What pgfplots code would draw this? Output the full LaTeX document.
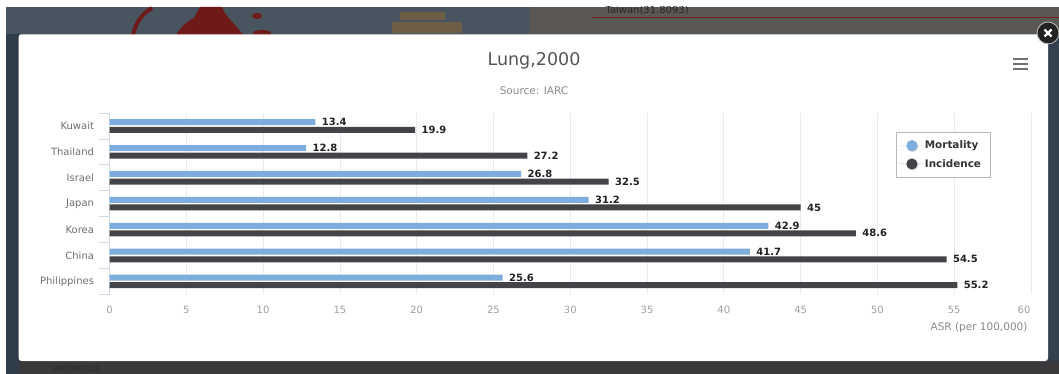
\documentclass[border=0pt]{standalone}
\usepackage{fontspec}
\usepackage{pgfplots}
\pgfplotsset{compat=1.18}
\usetikzlibrary{shadows}
\setmainfont{DejaVu Sans}
\definecolor{mort}{HTML}{7CADDC}
\definecolor{inc}{HTML}{434348}
\definecolor{ticktxt}{HTML}{A0A0A0}
\definecolor{cattxt}{HTML}{707070}
\definecolor{gridc}{HTML}{EBEBEB}
\definecolor{tickc}{HTML}{D0D8E4}
\definecolor{mapmain}{HTML}{3B4A58}
\definecolor{maptopl}{HTML}{48545F}
\definecolor{maptopr}{HTML}{5A5755}
\definecolor{mapbot}{HTML}{3A3A3C}
\definecolor{mapleft}{HTML}{2F3D4B}
\definecolor{mapright}{HTML}{33404E}
\definecolor{mapred}{HTML}{6E1A18}
\definecolor{mapsand}{HTML}{6E5E46}
\definecolor{maptxt}{HTML}{2A2A2A}
\definecolor{mapline}{HTML}{7A2020}
\definecolor{titletxt}{HTML}{555555}
\definecolor{subtxt}{HTML}{8A8A8A}
\definecolor{menuc}{HTML}{707070}
\definecolor{valtxt}{HTML}{222222}
\definecolor{legborder}{HTML}{B8B8B8}
\definecolor{legtxt}{HTML}{333333}
\definecolor{closec}{HTML}{222222}
\begin{document}
\begin{tikzpicture}[x=1pt,y=1pt]
\useasboundingbox (0,0) rectangle (1059,374);
% page margin and the dimmed map behind the dialog
\fill[white] (0,0) rectangle (1059,374);
\fill[mapmain] (6,0) rectangle (1059,367);
\fill[maptopl] (6,335) rectangle (530,367);
\fill[maptopr] (530,335) rectangle (1059,367);
\fill[mapbot] (6,0) rectangle (1059,13);
\fill[mapleft] (6,0) rectangle (19,340);
\fill[mapright] (1048,13) rectangle (1059,340);
\begin{scope}
\clip (6,339) rectangle (1059,367);
\draw[mapred,line width=4pt] (133,339) .. controls (136,352) and (142,360) .. (152,366);
\fill[mapred] (176,339) .. controls (180,346) and (186,352) .. (194,356) -- (200,367) -- (222,367) .. controls (226,356) and (236,350) .. (243,339) -- cycle;
\fill[mapred] (257,358) ellipse (5 and 3);
\fill[mapred] (262,341) ellipse (9 and 3);
\fill[mapsand] (392,341) rectangle (462,352);
\fill[mapsand] (400,354) rectangle (445,362);
\node[text=maptxt,font=\fontsize{10}{12}\selectfont,anchor=west] at (602,364) {Taiwan(31.8093)};
\end{scope}
\draw[mapline,line width=1pt] (592,356.3) -- (1059,356.3);
\node[text=maptxt,font=\fontsize{7.5}{8}\selectfont,anchor=west] at (50,5) {ANTARCTICA};
% dialog panel
\fill[white,rounded corners=3pt,drop shadow={opacity=0.25,shadow xshift=0pt,shadow yshift=-1pt}] (18.6,13) rectangle (1048,339.7);
% title block and export menu
\node[text=titletxt,font=\fontsize{17.5}{20}\selectfont] at (534,313) {Lung,2000};
\node[text=subtxt,font=\fontsize{10.5}{12}\selectfont] at (534,283.4) {Source: IARC};
\foreach \yy in {305,310,315} \fill[menuc] (1013,\yy-1.4) rectangle (1028,\yy+1.4);
\begin{axis}[
  at={(109.5pt,79.7pt)},anchor=south west,scale only axis,width=921.5pt,height=181.3pt,
  xbar,
  xmin=0,xmax=60,ymin=-0.5,ymax=6.5,y dir=reverse,
  xtick={0,5,...,60},
  xticklabels={0,5,10,15,20,25,30,35,40,45,50,55,\makebox[0pt]{\hspace{-14pt}60}},
  ytick={0,1,2,3,4,5,6},
  yticklabels={Kuwait,Thailand,Israel,Japan,Korea,China,Philippines},
  minor ytick={-0.5,0.5,1.5,2.5,3.5,4.5,5.5,6.5},
  axis x line*=bottom,axis y line*=left,
  x axis line style={draw=none,-},
  y axis line style={draw=tickc,-},
  xmajorgrids,major grid style={gridc,line width=0.7pt},
  tick align=outside,major tick length=0pt,minor tick length=10pt,
  minor tick style={tickc,line width=0.7pt},
  major tick style={draw=none},
  ticklabel style={font=\fontsize{10}{12}\selectfont},
  /pgf/number format/assume math mode=true,
  xticklabel style={text=ticktxt,yshift=-8.5pt},
  yticklabel style={text=cattxt,xshift=-12pt},
  xlabel={ASR (per 100,000)},
  xlabel style={at={(axis description cs:1,-0.186)},anchor=east,text=subtxt,font=\fontsize{10.5}{12}\selectfont},
  bar width=6pt,
  nodes near coords,
  point meta=x,
  every node near coord/.append style={font=\bfseries\fontsize{10}{12}\selectfont,text=valtxt,xshift=3pt,
    /pgf/number format/fixed,/pgf/number format/precision=1},
  clip=false,
  legend style={at={(0.853,0.895)},anchor=north west,draw=legborder,line width=0.7pt,fill=white,
    font=\bfseries\fontsize{10.4}{12}\selectfont,text=legtxt,
    drop shadow={opacity=0.3,shadow xshift=1pt,shadow yshift=-1pt},
    inner xsep=3pt,inner ysep=7.5pt,row sep=7pt,
    legend cell align=left,nodes={inner sep=1pt}},
]
\addplot[fill=mort,draw=none,bar shift=3.8pt,
  legend image code/.code={\path (-13pt,0pt) -- (12pt,0pt);\fill[mort] (0pt,0pt) circle (5.6pt);}]
  coordinates {(13.4,0) (12.8,1) (26.8,2) (31.2,3) (42.9,4) (41.7,5) (25.6,6)};
\addlegendentry{Mortality}
\addplot[fill=inc,draw=none,bar shift=-3.8pt,
  legend image code/.code={\path (-13pt,0pt) -- (12pt,0pt);\fill[inc] (0pt,0pt) circle (5.6pt);}]
  coordinates {(19.9,0) (27.2,1) (32.5,2) (45,3) (48.6,4) (54.5,5) (55.2,6)};
\addlegendentry{Incidence\hspace*{5pt}}
\end{axis}
% dialog close button
\fill[closec] (1048,341) circle (10.5);
\draw[white!75!black,line width=0.8pt] (1048,341) circle (11);
\draw[white,line width=2.2pt] (1044.5,337.5) -- (1051.5,344.5) (1044.5,344.5) -- (1051.5,337.5);
\end{tikzpicture}
\end{document}
